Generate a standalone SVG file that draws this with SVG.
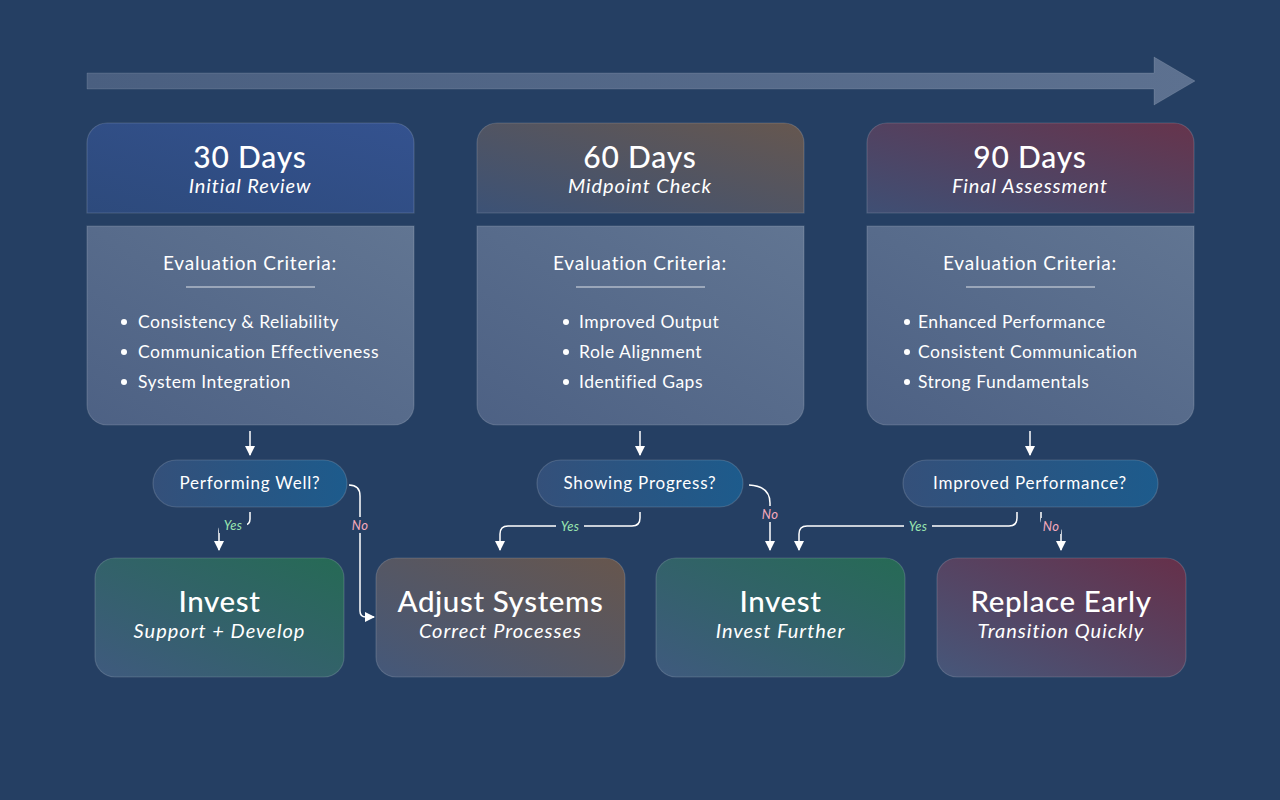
<svg xmlns="http://www.w3.org/2000/svg" width="1280" height="800" viewBox="0 0 1280 800">
<defs>
<style>
text{font-family:Lato,"Open Sans","Liberation Sans",sans-serif;fill:#ffffff}
.h1{font-size:30px;text-anchor:middle;font-weight:500;letter-spacing:0.8px}
.h2{font-size:20px;font-style:italic;text-anchor:middle;letter-spacing:0.9px}
.ec{font-size:19px;text-anchor:middle;letter-spacing:0.8px}
.li{font-size:17.5px;letter-spacing:0.5px}
.q{font-size:17px;text-anchor:middle;letter-spacing:0.8px}
.r1{font-size:29.5px;text-anchor:middle;font-weight:500;letter-spacing:0.6px}
.r2{font-size:20px;font-style:italic;text-anchor:middle;letter-spacing:1px}
.yes{font-size:13px;font-style:italic;fill:#9ae6b0;text-anchor:middle;letter-spacing:0.3px}
.no{font-size:13px;font-style:italic;fill:#f6a9bc;text-anchor:middle;letter-spacing:0.3px}
.lblbg{fill:#253f63}
.card{stroke:#ffffff;stroke-opacity:0.15;stroke-width:1.2}
.conn{fill:none;stroke:#ffffff;stroke-width:1.5}
.bullet{fill:#ffffff}
</style>
<linearGradient id="gShaft" x1="0" y1="0" x2="1" y2="0">
<stop offset="0" stop-color="#4a5f80"/><stop offset="1" stop-color="#5d7190"/>
</linearGradient>
<linearGradient id="gH1" x1="0" y1="1" x2="1" y2="0">
<stop offset="0" stop-color="#2d4a7c"/><stop offset="1" stop-color="#34528f"/>
</linearGradient>
<linearGradient id="gH2" x1="0" y1="1" x2="1" y2="0">
<stop offset="0" stop-color="#3c5276"/><stop offset="1" stop-color="#66574f"/>
</linearGradient>
<linearGradient id="gH3" x1="0" y1="1" x2="1" y2="0">
<stop offset="0" stop-color="#3f4f74"/><stop offset="1" stop-color="#66344c"/>
</linearGradient>
<linearGradient id="gBody" x1="0" y1="1" x2="1" y2="0">
<stop offset="0" stop-color="#4d6184"/><stop offset="1" stop-color="#617592"/>
</linearGradient>
<linearGradient id="gPill" x1="0" y1="0" x2="1" y2="0">
<stop offset="0" stop-color="#34507a"/><stop offset="1" stop-color="#1d5b8c"/>
</linearGradient>
<linearGradient id="gInv" x1="0" y1="1" x2="1" y2="0">
<stop offset="0" stop-color="#3f5a7e"/><stop offset="1" stop-color="#266a55"/>
</linearGradient>
<linearGradient id="gAdj" x1="0" y1="1" x2="1" y2="0">
<stop offset="0" stop-color="#44587a"/><stop offset="1" stop-color="#67564d"/>
</linearGradient>
<linearGradient id="gRep" x1="0" y1="1" x2="1" y2="0">
<stop offset="0" stop-color="#46577a"/><stop offset="1" stop-color="#66304a"/>
</linearGradient>
<marker id="ah" viewBox="0 0 10 10" refX="9" refY="5" markerWidth="10" markerHeight="10" markerUnits="userSpaceOnUse" orient="auto">
<path d="M0,0 L10,5 L0,10 z" fill="#ffffff"/>
</marker>
</defs>
<rect width="1280" height="800" fill="#253f63"/>

<g id="timeline">
<path d="M87,73 L1154,73 L1154,57 L1195,81 L1154,105 L1154,89 L87,89 z" fill="url(#gShaft)" stroke="#ffffff" stroke-opacity="0.12"/>
</g>

<g id="day30">
<path class="card" d="M107,123 H394 A20,20 0 0 1 414,143 V213 H87 V143 A20,20 0 0 1 107,123 z" fill="url(#gH1)"/>
<text class="h1" x="250" y="168">30 Days</text>
<text class="h2" x="250" y="193">Initial Review</text>
<path class="card" d="M87,226 H414 V405 A20,20 0 0 1 394,425 H107 A20,20 0 0 1 87,405 z" fill="url(#gBody)"/>
<text class="ec" x="250" y="270">Evaluation Criteria:</text>
<line x1="186" y1="287" x2="315" y2="287" stroke="#ffffff" stroke-opacity="0.8" stroke-width="1.2"/>
<circle class="bullet" cx="124" cy="322" r="3"/><text class="li" x="138" y="328">Consistency &amp; Reliability</text>
<circle class="bullet" cx="124" cy="352" r="3"/><text class="li" x="138" y="358">Communication Effectiveness</text>
<circle class="bullet" cx="124" cy="382" r="3"/><text class="li" x="138" y="388">System Integration</text>
</g>

<g id="day60">
<path class="card" d="M497,123 H784 A20,20 0 0 1 804,143 V213 H477 V143 A20,20 0 0 1 497,123 z" fill="url(#gH2)"/>
<text class="h1" x="640" y="168">60 Days</text>
<text class="h2" x="640" y="193">Midpoint Check</text>
<path class="card" d="M477,226 H804 V405 A20,20 0 0 1 784,425 H497 A20,20 0 0 1 477,405 z" fill="url(#gBody)"/>
<text class="ec" x="640" y="270">Evaluation Criteria:</text>
<line x1="576" y1="287" x2="705" y2="287" stroke="#ffffff" stroke-opacity="0.8" stroke-width="1.2"/>
<circle class="bullet" cx="566" cy="322" r="3"/><text class="li" x="579" y="328">Improved Output</text>
<circle class="bullet" cx="566" cy="352" r="3"/><text class="li" x="579" y="358">Role Alignment</text>
<circle class="bullet" cx="566" cy="382" r="3"/><text class="li" x="579" y="388">Identified Gaps</text>
</g>

<g id="day90">
<path class="card" d="M887,123 H1174 A20,20 0 0 1 1194,143 V213 H867 V143 A20,20 0 0 1 887,123 z" fill="url(#gH3)"/>
<text class="h1" x="1030" y="168">90 Days</text>
<text class="h2" x="1030" y="193">Final Assessment</text>
<path class="card" d="M867,226 H1194 V405 A20,20 0 0 1 1174,425 H887 A20,20 0 0 1 867,405 z" fill="url(#gBody)"/>
<text class="ec" x="1030" y="270">Evaluation Criteria:</text>
<line x1="966" y1="287" x2="1095" y2="287" stroke="#ffffff" stroke-opacity="0.8" stroke-width="1.2"/>
<circle class="bullet" cx="907" cy="322" r="3"/><text class="li" x="918" y="328">Enhanced Performance</text>
<circle class="bullet" cx="907" cy="352" r="3"/><text class="li" x="918" y="358">Consistent Communication</text>
<circle class="bullet" cx="907" cy="382" r="3"/><text class="li" x="918" y="388">Strong Fundamentals</text>
</g>

<g id="q30">
<rect class="card" x="153" y="460" width="194" height="47" rx="23.5" fill="url(#gPill)"/>
<text class="q" x="250" y="489">Performing Well?</text>
</g>
<g id="q60">
<rect class="card" x="537" y="460" width="206" height="47" rx="23.5" fill="url(#gPill)"/>
<text class="q" x="640" y="489">Showing Progress?</text>
</g>
<g id="q90">
<rect class="card" x="903" y="460" width="255" height="47" rx="23.5" fill="url(#gPill)"/>
<text class="q" x="1030" y="489">Improved Performance?</text>
</g>

<g id="res-invest1">
<rect class="card" x="95" y="558" width="249" height="119" rx="20" fill="url(#gInv)"/>
<text class="r1" x="219.5" y="612">Invest</text>
<text class="r2" x="219.5" y="638">Support + Develop</text>
</g>
<g id="res-adjust">
<rect class="card" x="376" y="558" width="249" height="119" rx="20" fill="url(#gAdj)"/>
<text class="r1" x="500.5" y="612">Adjust Systems</text>
<text class="r2" x="500.5" y="638">Correct Processes</text>
</g>
<g id="res-invest2">
<rect class="card" x="656" y="558" width="249" height="119" rx="20" fill="url(#gInv)"/>
<text class="r1" x="780.5" y="612">Invest</text>
<text class="r2" x="780.5" y="638">Invest Further</text>
</g>
<g id="res-replace">
<rect class="card" x="937" y="558" width="249" height="119" rx="20" fill="url(#gRep)"/>
<text class="r1" x="1061" y="612">Replace Early</text>
<text class="r2" x="1061" y="638">Transition Quickly</text>
</g>

<g id="connectors">
<path class="conn" d="M250,431 V455" marker-end="url(#ah)"/>
<path class="conn" d="M640,431 V455" marker-end="url(#ah)"/>
<path class="conn" d="M1030,431 V455" marker-end="url(#ah)"/>

<path class="conn" d="M250,512 V519 Q250,525 244,525 H225 Q219,525 219,531 V550" marker-end="url(#ah)"/>
<path class="conn" d="M349,485 Q360,485 360,496 V611 Q360,617 366,617 H374" marker-end="url(#ah)"/>

<path class="conn" d="M640,512 V518 Q640,526 632,526 H508 Q500,526 500,534 V550" marker-end="url(#ah)"/>
<path class="conn" d="M749,485 Q770,486 770,503 V550" marker-end="url(#ah)"/>

<path class="conn" d="M1017,512 V518 Q1017,526 1009,526 H807 Q799,526 799,534 V550" marker-end="url(#ah)"/>
<path class="conn" d="M1041,512 V519 Q1041,526 1048,526 H1054 Q1061,526 1061,533 V550" marker-end="url(#ah)"/>

<rect class="lblbg" x="219" y="517" width="28" height="16"/>
<text class="yes" x="233" y="530">Yes</text>
<rect class="lblbg" x="349" y="517" width="22" height="16"/>
<text class="no" x="360" y="530">No</text>
<rect class="lblbg" x="556" y="518" width="28" height="16"/>
<text class="yes" x="570" y="531">Yes</text>
<rect class="lblbg" x="759" y="506" width="22" height="16"/>
<text class="no" x="770" y="519">No</text>
<rect class="lblbg" x="904" y="518" width="28" height="16"/>
<text class="yes" x="918" y="531">Yes</text>
<rect class="lblbg" x="1041" y="518" width="20" height="16"/>
<text class="no" x="1051" y="531">No</text>
</g>
</svg>
